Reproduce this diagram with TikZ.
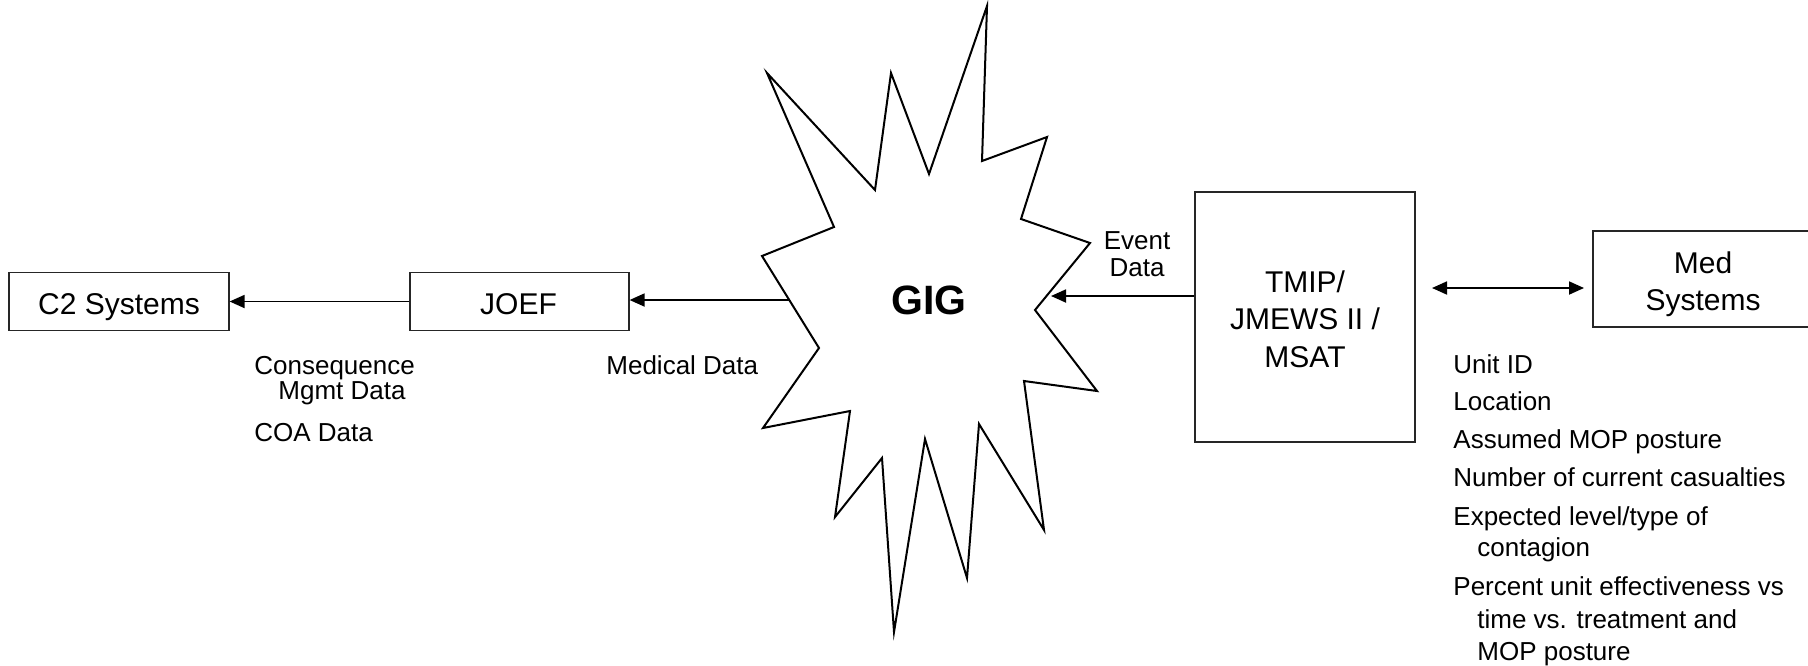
\documentclass[tikz,border=0pt]{standalone}
\usepackage{fontspec}
\setmainfont{Liberation Sans}
\usetikzlibrary{arrows.meta}
\begin{document}
\begin{tikzpicture}[x=0.5pt,y=-0.5pt,
  box/.style={draw=black!85, line width=0.6pt, inner sep=0pt},
  boxtext/.style={font=\fontsize{15}{18.75}\selectfont, inner sep=0pt},
  lbl/.style={font=\fontsize{13}{15.6}\selectfont, inner sep=0pt},
  arr/.style={-{Triangle[length=7.5pt,width=6.5pt]}, line width=0.9pt},
  dblarr/.style={{Triangle[length=7.5pt,width=6.5pt]}-{Triangle[length=7.5pt,width=6.5pt]}, line width=0.9pt},
  star/.style={draw=black, line width=1pt, line join=miter}]
\useasboundingbox (0,0) rectangle (1808,665);
\clip (0,0) rectangle (1808,665);

% boxes
\node[box, minimum width=110pt, minimum height=29pt] (c2) at (119,301.5) {};
\node[box, minimum width=109.5pt, minimum height=29pt] (joef) at (519.5,301.5) {};
\node[box, minimum width=110pt, minimum height=125pt] (tmip) at (1305,317) {};
\node[box, minimum width=118.5pt, minimum height=48pt] (medsys) at (1711.5,279) {};

% box texts
\node[boxtext, anchor=base] (c2t) at (119,314.6) {C2 Systems};
\node[boxtext, anchor=base] (joeft) at (518.5,314.6) {JOEF};
\node[boxtext, anchor=base] (tmip1) at (1305,292) {TMIP/};
\node[boxtext, anchor=base] (tmip2) at (1305,329.5) {JMEWS II /};
\node[boxtext, anchor=base] (tmip3) at (1305,367) {MSAT};
\node[boxtext, anchor=base] (med1) at (1703,273) {Med};
\node[boxtext, anchor=base] (med2) at (1703,310) {Systems};

% star
\draw[star] (987,6) -- (982,161) -- (1047,137) -- (1021,219) -- (1090,243)
  -- (1035,310) -- (1097,391) -- (1024,381) -- (1044,530) -- (979,424)
  -- (967,578) -- (925,439) -- (894,632) -- (882,458) -- (835,517)
  -- (850,411) -- (763,428) -- (819,348) -- (762,256) -- (834,227)
  -- (767,73) -- (875,190) -- (891,73) -- (929,174) -- cycle;
\node[font=\bfseries\fontsize{20.5}{24}\selectfont, inner sep=0pt] (gig) at (929,300) {GIG};
\coordinate (gigW) at (789,300);
\coordinate (gigE) at (1051,296);

% connectors
\draw[arr] (gigW) -- (gigW -| joef.east);
\draw[arr] (joef.west) -- (joef.west -| c2.east);
\draw[arr] (tmip.west |- gigE) -- (gigE);
\coordinate (da1) at (1432,288);
\coordinate (da2) at (1584,288);
\draw[dblarr] (da1) -- (da2);

% labels
\node[lbl, anchor=base] (ev1) at (1137,249) {Event};
\node[lbl, anchor=base] (ev2) at (1137,276.5) {Data};
\node[lbl, anchor=base west] (meddata) at (606,374) {Medical Data};
\node[lbl, anchor=base west] (cm1) at (254,374) {Consequence};
\node[lbl, anchor=base west] (cm2) at (278,399.5) {Mgmt Data};
\node[lbl, anchor=base west] (coa) at (254,441.5) {COA Data};

% right list
\node[lbl, anchor=base west] (r1) at (1453,373) {Unit ID};
\node[lbl, anchor=base west] (r2) at (1453,410) {Location};
\node[lbl, anchor=base west] (r3) at (1453,448) {Assumed MOP posture};
\node[lbl, anchor=base west] (r4) at (1453,486) {Number of current casualties};
\node[lbl, anchor=base west] (r5) at (1453,525) {Expected level/type of};
\node[lbl, anchor=base west] (r6) at (1477,556) {contagion};
\node[lbl, anchor=base west] (r7) at (1453,595) {Percent unit effectiveness vs};
\node[lbl, anchor=base west] (r8) at (1477,628) {time vs. treatment and};
\node[lbl, anchor=base west] (r9) at (1477,660) {MOP posture};
\end{tikzpicture}
\end{document}
